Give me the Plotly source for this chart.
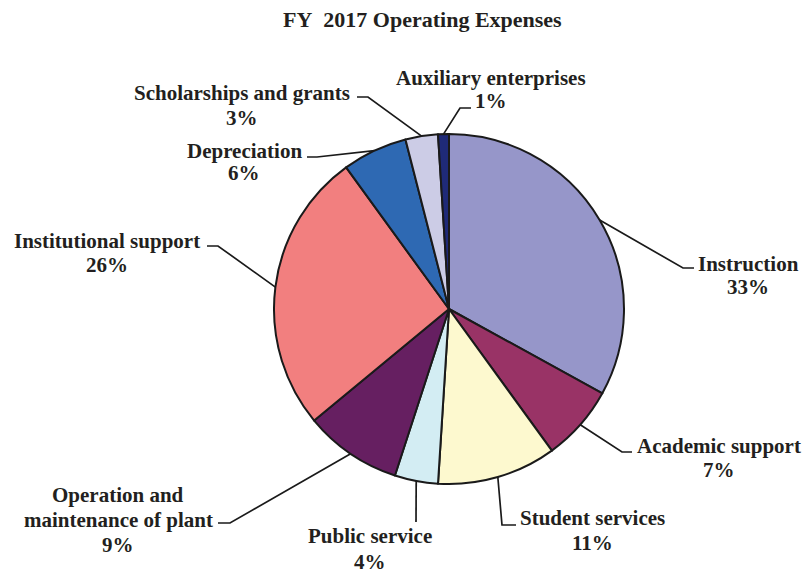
import math
import plotly.graph_objects as go

# ---- data ----
categories = ["Instruction", "Academic support", "Student services", "Public service",
              "Operation and maintenance of plant", "Institutional support",
              "Depreciation", "Scholarships and grants", "Auxiliary enterprises"]
values = [33, 7, 11, 4, 9, 26, 6, 3, 1]
colors = ["#9696C9", "#993366", "#FDF9CF", "#D3EDF3", "#661F61", "#F27F7F",
          "#2E69B3", "#CCCCE6", "#1F2A78"]

# ---- layout constants (pixels) ----
W, H = 806, 573
CX, CY, R = 449, 309, 175
TEXT = "#231F20"
FONT = "Liberation Serif"
FS = 21

# label text lines (how names wrap), centre x, and y of each line centre
label_lines = [["Instruction"], ["Academic support"], ["Student services"],
               ["Public service"], ["Operation and", "maintenance of plant"],
               ["Institutional support"], ["Depreciation"],
               ["Scholarships and grants"], ["Auxiliary enterprises"]]
label_x = [748, 719, 592, 370, 118, 107, 244, 242, 491]
label_y = [[264, 287], [446, 470], [517.5, 542.5], [536, 561.5], [494.5, 519.5, 544.5],
           [241, 264.5], [150.5, 172.5], [93, 117.5], [77.5, 100.5]]
# leader-line elbow points (pixels)
elbows = [[(683, 268), (694, 268)],
          [(622, 452), (632, 452)],
          [(502, 525), (516, 525)],
          [(416, 522)],
          [(230, 523), (218, 523)],
          [(218, 246), (207, 246)],
          [(317, 157), (307, 157)],
          [(368, 97), (357, 97)],
          [(460, 108), (471, 108)]]

fig = go.Figure()
fig.add_trace(go.Pie(
    values=values, labels=categories, sort=False, direction="clockwise", rotation=0,
    marker=dict(colors=colors, line=dict(color="#1A1A1A", width=2)),
    textinfo="none", hoverinfo="label+percent", showlegend=False,
    domain=dict(x=[(CX - R) / W, (CX + R) / W],
                y=[(H - CY - R) / H, (H - CY + R) / H]),
))

total = sum(values)
cum = 0
for i, v in enumerate(values):
    mid = (cum + v / 2) / total * 2 * math.pi
    cum += v
    ex, ey = CX + R * math.sin(mid), CY - R * math.cos(mid)
    pts = [(ex, ey)] + elbows[i]
    fig.add_trace(go.Scatter(x=[p[0] for p in pts], y=[p[1] for p in pts],
                             mode="lines", line=dict(color="#1A1A1A", width=1.7),
                             hoverinfo="skip", showlegend=False))
    pct = round(v / total * 100)
    lines = label_lines[i] + [f"{pct}%"]
    for txt, ly in zip(lines, label_y[i]):
        fig.add_annotation(x=label_x[i], y=ly, xref="x", yref="y", showarrow=False,
                           text=f"<b>{txt}</b>", xanchor="center", yanchor="middle",
                           font=dict(family=FONT, size=FS, color=TEXT))

fig.add_annotation(x=422, y=19, xref="x", yref="y", showarrow=False,
                   text="<b>FY&nbsp; 2017 Operating Expenses</b>",
                   xanchor="center", yanchor="middle",
                   font=dict(family=FONT, size=22, color=TEXT))

fig.update_layout(
    width=W, height=H, margin=dict(l=0, r=0, t=0, b=0),
    paper_bgcolor="white", plot_bgcolor="rgba(0,0,0,0)",
    xaxis=dict(range=[0, W], visible=False, fixedrange=True),
    yaxis=dict(range=[H, 0], visible=False, fixedrange=True),
)
fig.write_html("out.html", config={"displayModeBar": False},
               post_script="document.body.style.margin='0';document.body.style.padding='0';"
                           "document.body.style.overflow='hidden';")
